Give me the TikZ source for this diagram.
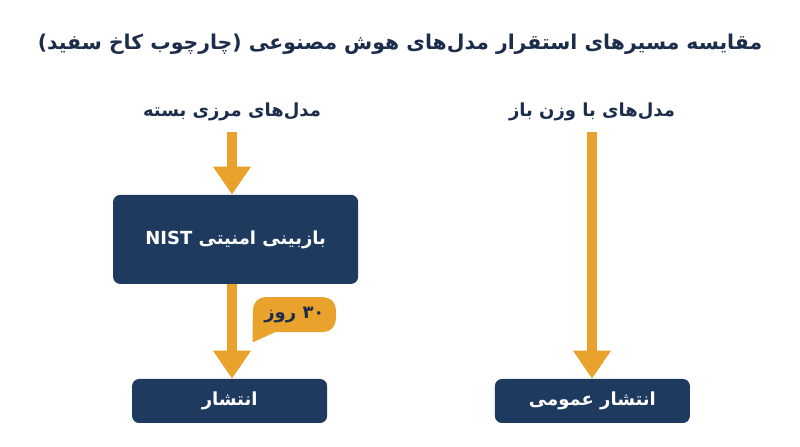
\documentclass[tikz,border=0pt]{standalone}
\usepackage{fontspec}
\usepackage{tikz}
\usetikzlibrary{arrows.meta}
\usetikzlibrary{positioning}
\newfontfamily\farsi[Script=Arabic]{DejaVu Sans}
\TeXXeTstate=1
\definecolor{navy}{HTML}{1E3A5F}
\definecolor{ink}{HTML}{1C2D4C}
\definecolor{amber}{HTML}{E9A22B}

\begin{document}
\begin{tikzpicture}
	\tikzset{title/.style = {text=ink, font=\farsi\bfseries\fontsize{14.5}{17}\selectfont}}
	\tikzset{heading/.style = {text=ink, font=\farsi\bfseries\fontsize{12.8}{15}\selectfont}}
	\tikzset{stage/.style = {shape=rectangle, rounded corners=5pt, fill=navy, text=white,
			font=\farsi\bfseries\fontsize{12.8}{15}\selectfont, inner sep=0pt}}
	\tikzset{flow/.style = {-{Triangle[width=0.9cm,length=0.7cm]}, line width=0.24cm, draw=amber}}
	\tikzset{tag/.style = {shape=rectangle, rounded corners=9pt, fill=amber, text=ink,
			font=\farsi\bfseries\fontsize{12.8}{15}\selectfont, minimum width=2.075cm,
			minimum height=0.875cm, inner sep=0pt}}
	
	\useasboundingbox (0,0) rectangle (20,11.175);
	
	% titles
	\node[title] (head) at (10,10.075) {\beginR مقایسه مسیرهای استقرار مدل‌های هوش مصنوعی (چارچوب کاخ سفید)\endR};
	\node[heading] (closed) at (5.8,8.375) {\beginR مدل‌های مرزی بسته\endR};
	\node[heading] (open) at (14.8,8.375) {\beginR مدل‌های با وزن باز\endR};
	
	% boxes
	\node[stage, minimum width=6.125cm, minimum height=2.225cm] (review) at (5.89,5.19)
		{\beginR بازبینی امنیتی \beginL NIST\endL\endR};
	\node[stage, minimum width=4.875cm, minimum height=1.1cm] (release) at (5.74,1.15)
		{\beginR انتشار\endR};
	\node[stage, minimum width=4.875cm, minimum height=1.1cm] (public) at (14.81,1.15)
		{\beginR انتشار عمومی\endR};
	
	% arrows
	\draw[flow] (closed.south -| review.north) ++(-0.09,-0.15) coordinate (c1) -- (c1 |- review.north);
	\draw[flow] (c1 |- review.south) -- (c1 |- release.north);
	\draw[flow, shorten <=0.15cm] (open.south) -- (open.south |- public.north);
	
	% waiting time
	\node[tag] (wait) at (7.36,3.31) {\beginR ۳۰ روز\endR};
	\fill[amber] ([yshift=0.3cm]wait.south west) -- ([yshift=-0.25cm]wait.south west)
		-- ([xshift=0.55cm]wait.south west) -- cycle;
	
\end{tikzpicture}
\end{document}
